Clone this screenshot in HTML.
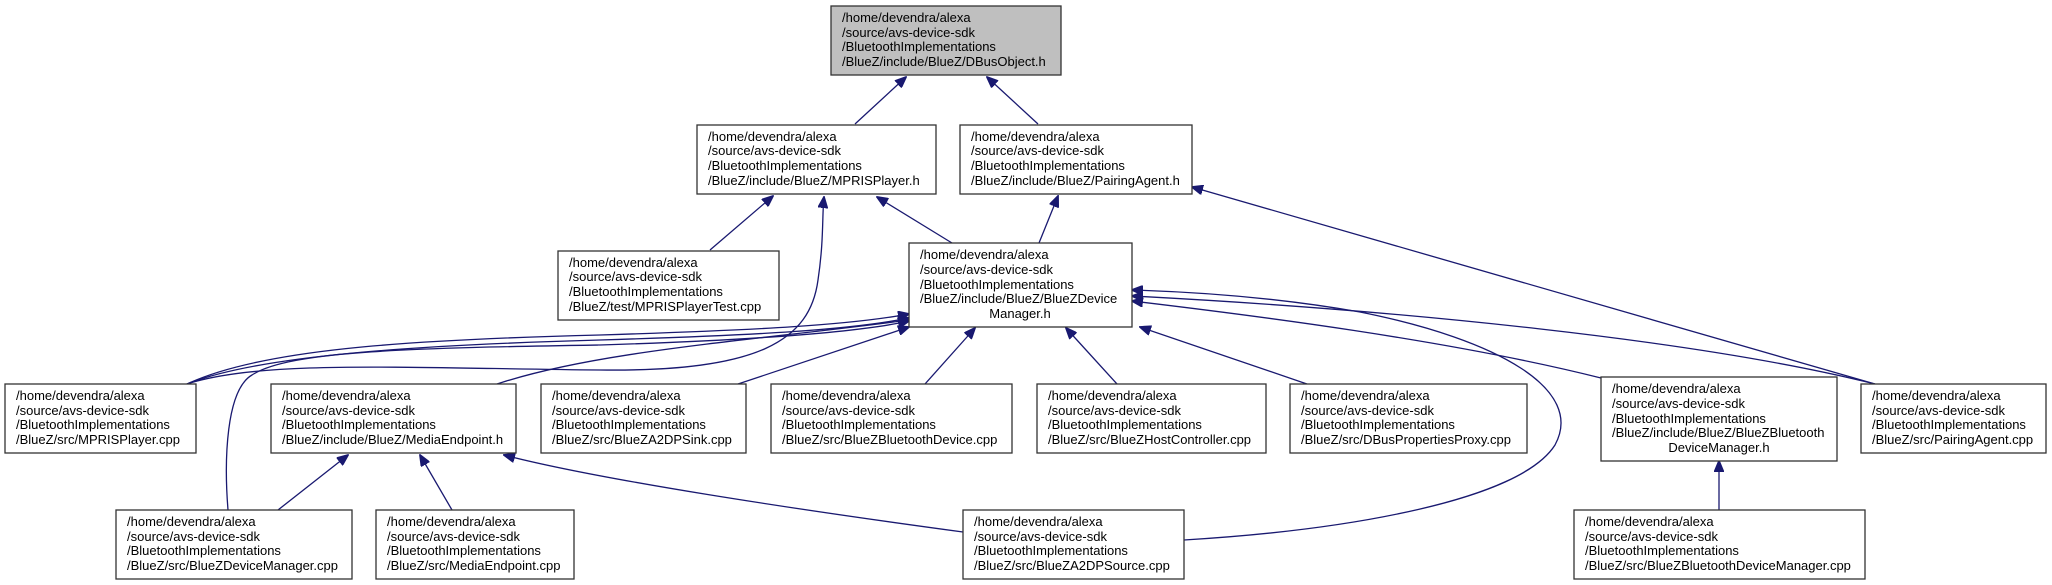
<!DOCTYPE html>
<html><head><meta charset="utf-8"><style>
html,body{margin:0;padding:0;background:#fff;}
svg{display:block;}
text{font-family:"Liberation Sans",sans-serif;font-size:13px;fill:#000;}
rect{stroke:#333;stroke-width:1.3;fill:#fff;}
path{fill:none;stroke:#191970;stroke-width:1.3;}
</style></head><body>
<svg width="2052" height="585" viewBox="0 0 2052 585" xmlns="http://www.w3.org/2000/svg">
<defs>
<marker id="a" markerWidth="12" markerHeight="10" refX="11" refY="5" orient="auto" markerUnits="userSpaceOnUse">
<path d="M0,0 L12,5 L0,10 Z" style="fill:#191970;stroke:#191970;stroke-width:1"/>
</marker>
</defs>

<!-- edges -->
<path d="M855,124 L906,77" marker-end="url(#a)"/>
<path d="M1038,124 L987,77" marker-end="url(#a)"/>
<path d="M710,250 L773,196" marker-end="url(#a)"/>
<path d="M187,384 C260,360 400,368 600,370 C760,372 810,340 818,280 C824,240 822,215 824,197" marker-end="url(#a)"/>
<path d="M952,243 L877,197" marker-end="url(#a)"/>
<path d="M1039,243 L1058,196" marker-end="url(#a)"/>
<path d="M187,384 C260,350 400,340 600,335 C760,330 850,325 909,314" marker-end="url(#a)"/>
<path d="M187,384 C260,355 420,345 600,340 C760,335 850,330 909,318" marker-end="url(#a)"/>
<path d="M228,510 C224,460 226,390 252,375 C290,350 420,348 600,345 C760,340 860,332 909,321" marker-end="url(#a)"/>
<path d="M497,384 C600,350 760,340 909,320" marker-end="url(#a)"/>
<path d="M738,384 L909,327" marker-end="url(#a)"/>
<path d="M925,384 L975,328" marker-end="url(#a)"/>
<path d="M1117,384 L1066,328" marker-end="url(#a)"/>
<path d="M1307,384 L1140,327" marker-end="url(#a)"/>
<path d="M1601,378 C1450,340 1250,315 1132,301" marker-end="url(#a)"/>
<path d="M1875,384 C1700,340 1400,310 1132,296" marker-end="url(#a)"/>
<path d="M1184,540 C1350,530 1520,500 1555,445 C1585,390 1500,340 1360,312 C1280,298 1200,292 1132,290" marker-end="url(#a)"/>
<path d="M1875,384 L1192,187" marker-end="url(#a)"/>
<path d="M278,510 L348,455" marker-end="url(#a)"/>
<path d="M452,510 L420,455" marker-end="url(#a)"/>
<path d="M963,532 C800,510 600,480 504,455" marker-end="url(#a)"/>
<path d="M1719,510 L1719,461" marker-end="url(#a)"/>

<!-- nodes -->
<rect x="831" y="6" width="230" height="69" style="fill:#bfbfbf"/>
<text x="842" y="22">/home/devendra/alexa</text><text x="842" y="37">/source/avs-device-sdk</text><text x="842" y="51">/BluetoothImplementations</text><text x="842" y="66">/BlueZ/include/BlueZ/DBusObject.h</text>

<rect x="697" y="125" width="239" height="69"/>
<text x="708" y="141">/home/devendra/alexa</text><text x="708" y="155">/source/avs-device-sdk</text><text x="708" y="170">/BluetoothImplementations</text><text x="708" y="185">/BlueZ/include/BlueZ/MPRISPlayer.h</text>

<rect x="960" y="125" width="232" height="69"/>
<text x="971" y="141">/home/devendra/alexa</text><text x="971" y="155">/source/avs-device-sdk</text><text x="971" y="170">/BluetoothImplementations</text><text x="971" y="185">/BlueZ/include/BlueZ/PairingAgent.h</text>

<rect x="558" y="251" width="221" height="69"/>
<text x="569" y="267">/home/devendra/alexa</text><text x="569" y="281">/source/avs-device-sdk</text><text x="569" y="296">/BluetoothImplementations</text><text x="569" y="311">/BlueZ/test/MPRISPlayerTest.cpp</text>

<rect x="909" y="243" width="223" height="84"/>
<text x="920" y="259">/home/devendra/alexa</text><text x="920" y="274">/source/avs-device-sdk</text><text x="920" y="289">/BluetoothImplementations</text><text x="920" y="303">/BlueZ/include/BlueZ/BlueZDevice</text><text x="1020" y="318" text-anchor="middle">Manager.h</text>

<rect x="5" y="384" width="191" height="69"/>
<text x="16" y="400">/home/devendra/alexa</text><text x="16" y="415">/source/avs-device-sdk</text><text x="16" y="429">/BluetoothImplementations</text><text x="16" y="444">/BlueZ/src/MPRISPlayer.cpp</text>

<rect x="271" y="384" width="245" height="69"/>
<text x="282" y="400">/home/devendra/alexa</text><text x="282" y="415">/source/avs-device-sdk</text><text x="282" y="429">/BluetoothImplementations</text><text x="282" y="444">/BlueZ/include/BlueZ/MediaEndpoint.h</text>

<rect x="541" y="384" width="205" height="69"/>
<text x="552" y="400">/home/devendra/alexa</text><text x="552" y="415">/source/avs-device-sdk</text><text x="552" y="429">/BluetoothImplementations</text><text x="552" y="444">/BlueZ/src/BlueZA2DPSink.cpp</text>

<rect x="771" y="384" width="241" height="69"/>
<text x="782" y="400">/home/devendra/alexa</text><text x="782" y="415">/source/avs-device-sdk</text><text x="782" y="429">/BluetoothImplementations</text><text x="782" y="444">/BlueZ/src/BlueZBluetoothDevice.cpp</text>

<rect x="1037" y="384" width="229" height="69"/>
<text x="1048" y="400">/home/devendra/alexa</text><text x="1048" y="415">/source/avs-device-sdk</text><text x="1048" y="429">/BluetoothImplementations</text><text x="1048" y="444">/BlueZ/src/BlueZHostController.cpp</text>

<rect x="1290" y="384" width="237" height="69"/>
<text x="1301" y="400">/home/devendra/alexa</text><text x="1301" y="415">/source/avs-device-sdk</text><text x="1301" y="429">/BluetoothImplementations</text><text x="1301" y="444">/BlueZ/src/DBusPropertiesProxy.cpp</text>

<rect x="1601" y="377" width="236" height="84"/>
<text x="1612" y="393">/home/devendra/alexa</text><text x="1612" y="408">/source/avs-device-sdk</text><text x="1612" y="423">/BluetoothImplementations</text><text x="1612" y="437">/BlueZ/include/BlueZ/BlueZBluetooth</text><text x="1719" y="452" text-anchor="middle">DeviceManager.h</text>

<rect x="1861" y="384" width="185" height="69"/>
<text x="1872" y="400">/home/devendra/alexa</text><text x="1872" y="415">/source/avs-device-sdk</text><text x="1872" y="429">/BluetoothImplementations</text><text x="1872" y="444">/BlueZ/src/PairingAgent.cpp</text>

<rect x="116" y="510" width="236" height="69"/>
<text x="127" y="526">/home/devendra/alexa</text><text x="127" y="541">/source/avs-device-sdk</text><text x="127" y="555">/BluetoothImplementations</text><text x="127" y="570">/BlueZ/src/BlueZDeviceManager.cpp</text>

<rect x="376" y="510" width="198" height="69"/>
<text x="387" y="526">/home/devendra/alexa</text><text x="387" y="541">/source/avs-device-sdk</text><text x="387" y="555">/BluetoothImplementations</text><text x="387" y="570">/BlueZ/src/MediaEndpoint.cpp</text>

<rect x="963" y="510" width="221" height="69"/>
<text x="974" y="526">/home/devendra/alexa</text><text x="974" y="541">/source/avs-device-sdk</text><text x="974" y="555">/BluetoothImplementations</text><text x="974" y="570">/BlueZ/src/BlueZA2DPSource.cpp</text>

<rect x="1574" y="510" width="291" height="69"/>
<text x="1585" y="526">/home/devendra/alexa</text><text x="1585" y="541">/source/avs-device-sdk</text><text x="1585" y="555">/BluetoothImplementations</text><text x="1585" y="570">/BlueZ/src/BlueZBluetoothDeviceManager.cpp</text>
</svg>
</body></html>
